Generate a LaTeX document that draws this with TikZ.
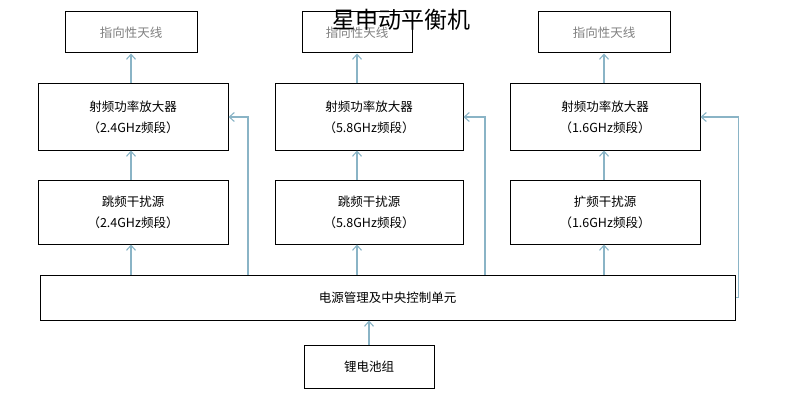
\documentclass[tikz,border=0pt]{standalone}
\usepackage{fontspec}
\setmainfont{Noto Sans CJK SC}
\usetikzlibrary{arrows.meta}
\tikzset{
  blk/.style={draw=black, line width=1pt, inner sep=0pt},
  feed/.style={draw=cyan!40!gray!80, line width=1.1pt, -{Straight Barb[length=5pt,width=9pt]}},
  lbl/.style={font=\fontsize{12.5}{21}\selectfont, align=center}
}
\begin{document}
\begin{tikzpicture}[x=1pt,y=-1pt]
  \useasboundingbox (0,0) rectangle (800,401);
  % antennas
  \node[blk, minimum width=132, minimum height=41, text=gray, lbl] (antL) at (131,32.5) {指向性天线};
  \node[blk, minimum width=110, minimum height=41, text=gray, lbl] (antM) at (357,32.5) {指向性天线};
  \node[blk, minimum width=132, minimum height=41, text=gray, lbl] (antR) at (604,32.5) {指向性天线};
  % amplifiers
  \node[blk, minimum width=190, minimum height=66, lbl] (ampL) at (133,117) {射频功率放大器\\（2.4GHz频段）};
  \node[blk, minimum width=188, minimum height=66, lbl] (ampM) at (369,117) {射频功率放大器\\（5.8GHz频段）};
  \node[blk, minimum width=190, minimum height=66, lbl] (ampR) at (605,117) {射频功率放大器\\（1.6GHz频段）};
  % jammers
  \node[blk, minimum width=190, minimum height=64, lbl] (jamL) at (133,212) {跳频干扰源\\（2.4GHz频段）};
  \node[blk, minimum width=188, minimum height=64, lbl] (jamM) at (369,212) {跳频干扰源\\（5.8GHz频段）};
  \node[blk, minimum width=190, minimum height=64, lbl] (jamR) at (605,212) {扩频干扰源\\（1.6GHz频段）};
  % control and battery
  \node[blk, minimum width=695, minimum height=45, lbl] (ctrl) at (387.5,297.5) {电源管理及中央控制单元};
  \node[blk, minimum width=130, minimum height=43, lbl] (bat) at (369,366.5) {锂电池组};
  \node[font=\fontsize{23}{26}\selectfont] (title) at (401,20) {星申动平衡机};
  % arrows up
  \draw[feed] (ampL.north -| antL) -- (antL.south);
  \draw[feed] (ampM.north -| antM) -- (antM.south);
  \draw[feed] (ampR.north -| antR) -- (antR.south);
  \draw[feed] (jamL.north -| antL) -- (ampL.south -| antL);
  \draw[feed] (jamM.north -| antM) -- (ampM.south -| antM);
  \draw[feed] (jamR.north -| antR) -- (ampR.south -| antR);
  \draw[feed] (ctrl.north -| antL) -- (jamL.south -| antL);
  \draw[feed] (ctrl.north -| antM) -- (jamM.south -| antM);
  \draw[feed] (ctrl.north -| antR) -- (jamR.south -| antR);
  \draw[feed] (bat.north) -- (ctrl.south -| bat);
  % control lines to amplifiers
  \draw[feed] (ctrl.north -| 248,0) |- (ampL.east);
  \draw[feed] (ctrl.north -| 485,0) |- (ampM.east);
  \draw[feed] (ctrl.east) -- ++(3,0) |- (ampR.east);
\end{tikzpicture}
\end{document}
